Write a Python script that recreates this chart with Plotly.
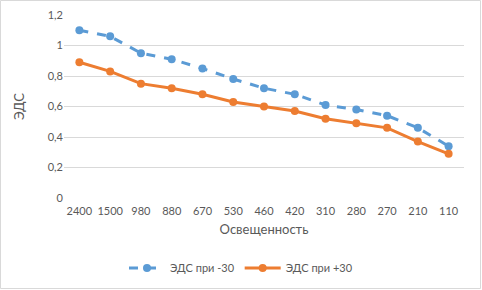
import plotly.graph_objects as go

categories = ["2400", "1500", "980", "880", "670", "530", "460", "420", "310", "280", "270", "210", "110"]
emf_minus30 = [1.10, 1.06, 0.95, 0.91, 0.85, 0.78, 0.72, 0.68, 0.61, 0.58, 0.54, 0.46, 0.34]
emf_plus30 = [0.89, 0.83, 0.75, 0.72, 0.68, 0.63, 0.60, 0.57, 0.52, 0.49, 0.46, 0.37, 0.29]
y_ticks = [0, 0.2, 0.4, 0.6, 0.8, 1.0, 1.2]
y_tick_labels = ["0", "0,2", "0,4", "0,6", "0,8", "1", "1,2"]

W, H = 482, 290
L, R, T, B = 64, 18, 15, 92

fig = go.Figure()
fig.add_trace(go.Scatter(
    x=categories, y=emf_minus30, name="ЭДС при -30", mode="lines+markers",
    line=dict(color="#5B9BD5", width=3, dash="dash"),
    marker=dict(color="#5B9BD5", size=8),
))
fig.add_trace(go.Scatter(
    x=categories, y=emf_plus30, name="ЭДС при +30", mode="lines+markers",
    line=dict(color="#ED7D31", width=3),
    marker=dict(color="#ED7D31", size=8),
))

pw = W - L - R
ph = H - T - B
fig.add_shape(type="rect", xref="paper", yref="paper",
              x0=-(L - 0.5) / pw, x1=1 + (R - 1.5) / pw,
              y0=-(B - 1.5) / ph, y1=1 + (T - 0.5) / ph,
              line=dict(color="#D9D9D9", width=1), layer="below")

fig.update_layout(
    width=W, height=H,
    margin=dict(l=L, r=R, t=T, b=B, autoexpand=False),
    paper_bgcolor="white", plot_bgcolor="white",
    font=dict(family="Lato, Open Sans, sans-serif", size=11, color="#595959"),
    showlegend=True,
    legend=dict(orientation="h", x=(W / 2 - L) / pw, xanchor="center",
                y=-(268 - (H - B)) / ph, yanchor="middle",
                font=dict(size=11, color="#595959"), itemwidth=36),
    xaxis=dict(type="category", showgrid=False, zeroline=False, showline=False, automargin=False,
               ticks="", ticklabelstandoff=5, title=dict(text="Освещенность", standoff=8),
               tickfont=dict(size=11), range=[-0.5, len(categories) - 0.5]),
    yaxis=dict(range=[0, 1.2], tickvals=y_ticks, ticktext=y_tick_labels, automargin=False,
               showgrid=True, gridcolor="#D9D9D9", gridwidth=1,
               zeroline=False, showline=False, ticks="",
               title=dict(text="ЭДС", standoff=20), tickfont=dict(size=11)),
)

fig.write_html("out.html", config={"displayModeBar": False},
               post_script="document.body.style.margin='0';document.body.style.overflow='hidden';")
